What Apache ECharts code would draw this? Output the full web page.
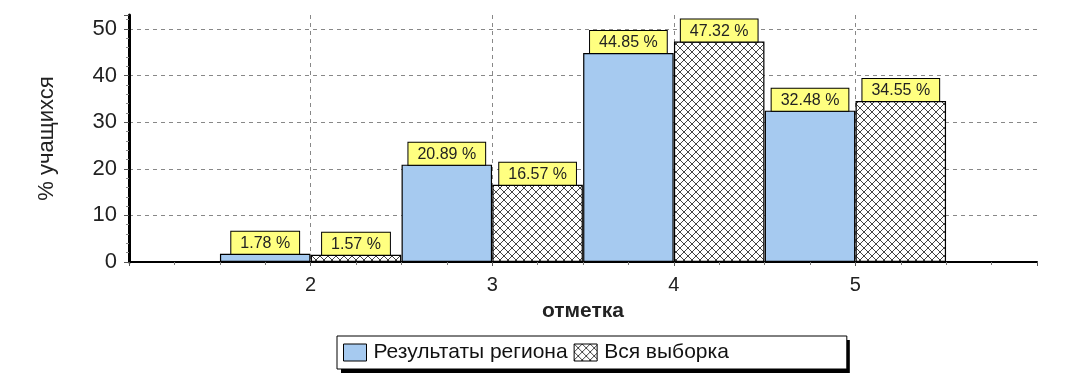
<!DOCTYPE html>
<html>
<head>
<meta charset="utf-8">
<script src="https://cdn.jsdelivr.net/npm/echarts@6/dist/echarts.min.js"></script>
<style>
html,body{margin:0;padding:0;background:#fff;}
#chart{width:1072px;height:390px;}
</style>
</head>
<body>
<div id="chart"></div>
<script>
// ---- data ----
const categories = ['2', '3', '4', '5'];
const regionValues = [1.78, 20.89, 44.85, 32.48];
const allValues = [1.57, 16.57, 47.32, 34.55];
const xTickLabels = ['2', '3', '4', '5'];
const seriesNames = ['Результаты региона', 'Вся выборка'];

// hatch pattern
const pc = document.createElement('canvas');
pc.width = 8; pc.height = 8;
const ctx = pc.getContext('2d');
ctx.fillStyle = '#fff';
ctx.fillRect(0, 0, 8, 8);
ctx.strokeStyle = '#444';
ctx.lineWidth = 1;
ctx.beginPath();
ctx.moveTo(-1, -1); ctx.lineTo(9, 9);
ctx.moveTo(9, -1); ctx.lineTo(-1, 9);
ctx.stroke();

const FONT = "'Liberation Sans', Arial, sans-serif";
const chart = echarts.init(document.getElementById('chart'));

const labelCfg = {
  show: true,
  position: 'top',
  distance: 0,
  formatter: p => p.value[1].toFixed(2) + ' %',
  backgroundColor: '#ffff80',
  borderColor: '#000',
  borderWidth: 1,
  padding: [3, 9, 1, 9],
  fontSize: 16,
  lineHeight: 18,
  fontFamily: FONT,
  color: '#222'
};

const legendBase = {
  data: seriesNames,
  itemWidth: 23,
  itemHeight: 17,
  itemGap: 6,
  padding: [6, 118, 6, 6],
  borderRadius: 0,
  icon: 'rect',
  selectedMode: false
};

chart.setOption({
  animation: false,
  textStyle: { fontFamily: FONT },
  grid: { left: 129, right: 35, top: 15, bottom: 128 },
  xAxis: {
    type: 'value',
    min: 1, max: 6, interval: 1,
    name: 'отметка',
    nameLocation: 'middle',
    nameGap: 39,
    nameTextStyle: { fontSize: 21, fontWeight: 'bold', color: '#222', fontFamily: FONT },
    axisLine: { show: true, onZero: false, lineStyle: { color: '#000', width: 2 } },
    axisTick: { show: true, length: 4, lineStyle: { color: '#555' } },
    minorTick: { show: true, splitNumber: 4, length: 3, lineStyle: { color: '#777' } },
    axisLabel: {
      fontSize: 20, color: '#222', margin: 13, fontFamily: FONT,
      formatter: v => xTickLabels.indexOf(String(v)) >= 0 ? String(v) : ''
    },
    splitLine: {
      show: true, showMinLine: false, showMaxLine: false,
      lineStyle: { color: '#888', type: [4, 4], width: 1 }
    }
  },
  yAxis: {
    type: 'value',
    min: 0, max: 53, interval: 10,
    name: '% учащихся',
    nameLocation: 'middle',
    nameGap: 71,
    nameRotate: 90,
    nameTextStyle: { fontSize: 22, color: '#222', fontFamily: FONT },
    axisLine: { show: true, lineStyle: { color: '#000', width: 3 } },
    axisTick: { show: true, length: 5, lineStyle: { color: '#555' } },
    minorTick: { show: true, splitNumber: 5, length: 3, lineStyle: { color: '#888' } },
    axisLabel: { fontSize: 22, color: '#222', margin: 12, showMaxLabel: false, fontFamily: FONT },
    splitLine: {
      show: true, showMinLine: false, showMaxLine: false,
      lineStyle: { color: '#888', type: [4, 4], width: 1 }
    }
  },
  legend: [
    Object.assign({}, legendBase, {
      // drop shadow box
      top: 340,
      left: 341,
      z: 3,
      backgroundColor: '#000',
      borderWidth: 0,
      textStyle: { fontSize: 21, color: 'rgba(0,0,0,0)', fontFamily: FONT, padding: [0, 0, 0, 2] },
      itemStyle: { opacity: 0, borderWidth: 0 }
    }),
    Object.assign({}, legendBase, {
      top: 336,
      left: 337,
      z: 5,
      backgroundColor: '#fff',
      borderColor: '#000',
      borderWidth: 1,
      textStyle: { fontSize: 21, color: '#111', fontFamily: FONT, padding: [0, 0, 0, 2] },
      itemStyle: { borderColor: '#000', borderWidth: 1 }
    })
  ],
  series: [
    {
      name: seriesNames[0],
      type: 'bar',
      barWidth: 90.5,
      barGap: '-100%',
      data: categories.map((c, i) => [Number(c) - 0.25, regionValues[i]]),
      itemStyle: { color: '#a6caf0', borderColor: '#000', borderWidth: 1.2 },
      label: labelCfg
    },
    {
      name: seriesNames[1],
      type: 'bar',
      barWidth: 90.5,
      barGap: '-100%',
      data: categories.map((c, i) => [Number(c) + 0.25, allValues[i]]),
      itemStyle: { color: { image: pc, repeat: 'repeat' }, borderColor: '#000', borderWidth: 1.2 },
      label: labelCfg
    }
  ]
});
</script>
</body>
</html>
